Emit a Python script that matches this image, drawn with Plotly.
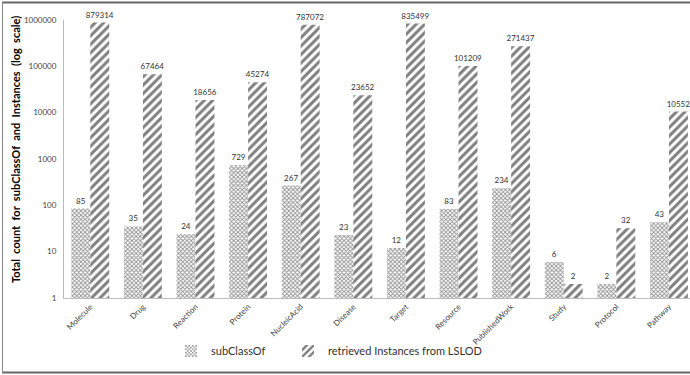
import plotly.graph_objects as go

categories = ["Molecule", "Drug", "Reaction", "Protein", "NucleicAcid", "Disease",
              "Target", "Resource", "PublishedWork", "Study", "Protocol", "Pathway"]
subclass_vals = [85, 35, 24, 729, 267, 23, 12, 83, 234, 6, 2, 43]
instance_vals = [879314, 67464, 18656, 45274, 787072, 23652, 835499, 101209, 271437, 2, 32, 10552]
y_ticks = [1, 10, 100, 1000, 10000, 100000, 1000000]

W, H = 690, 375
ML, MR, MT, MB = 64, 0, 20, 77
pw = W - ML - MR
ph = H - MT - MB

def px_x(p):
    return (p - ML) / pw

def px_y(p):
    return (H - MB - p) / ph

font_fam = "Lato, 'Open Sans', sans-serif"

fig = go.Figure()
fig.add_trace(go.Bar(
    name="subClassOf", x=categories, y=subclass_vals,
    text=[str(v) for v in subclass_vals], textposition="outside",
    textfont=dict(size=8, color="#333", family=font_fam),
    cliponaxis=False, constraintext="none", legend="legend",
    marker=dict(color="white", line=dict(width=0),
                pattern=dict(shape="x", size=3, solidity=0.5, fgcolor="#222", bgcolor="white")),
))
fig.add_trace(go.Bar(
    name="retrieved Instances from LSLOD", x=categories, y=instance_vals,
    text=[str(v) for v in instance_vals], textposition="outside",
    textfont=dict(size=8, color="#333", family=font_fam),
    cliponaxis=False, constraintext="none", legend="legend2",
    marker=dict(color="white", line=dict(width=0),
                pattern=dict(shape="/", size=6, solidity=0.5, fgcolor="black", bgcolor="white")),
))

leg_common = dict(orientation="h", yanchor="middle", y=px_y(351), xanchor="left",
                  font=dict(size=11, color="#333"), itemwidth=30, bgcolor="rgba(0,0,0,0)")

fig.update_layout(
    width=W, height=H,
    margin=dict(l=ML, r=MR, t=MT, b=MB, autoexpand=False),
    paper_bgcolor="white", plot_bgcolor="white",
    barmode="group", bargap=0.28, bargroupgap=0,
    font=dict(family=font_fam, color="#333"),
    showlegend=True,
    legend=dict(x=px_x(213 - 42), **leg_common),
    legend2=dict(x=px_x(330 - 42), **leg_common),
    xaxis=dict(range=[-0.5, 11.4], tickangle=-45, tickfont=dict(size=8, color="#444"),
               showline=True, linecolor="#bbb", linewidth=1, showgrid=False, ticks="",
               fixedrange=True),
    yaxis=dict(type="log", range=[0, 6], tickvals=y_ticks, ticktext=[str(v) for v in y_ticks],
               tickfont=dict(size=8, color="#444"), showline=True, linecolor="#bbb", linewidth=1,
               showgrid=False, ticks="", ticklabelstandoff=5, zeroline=False),
    annotations=[dict(
        text="<b>Total  count  for  subClassOf  and  Instances  (log  scale)</b>",
        xref="paper", yref="paper", x=px_x(15), y=px_y(150), textangle=-90,
        showarrow=False, font=dict(size=11, color="black", family=font_fam),
        xanchor="center", yanchor="middle")],
    shapes=[
        dict(type="line", xref="paper", yref="paper", x0=px_x(2), x1=px_x(700), y0=px_y(2.5), y1=px_y(2.5),
             line=dict(color="#666", width=2)),
        dict(type="line", xref="paper", yref="paper", x0=px_x(2), x1=px_x(700), y0=px_y(372.5), y1=px_y(372.5),
             line=dict(color="#666", width=2)),
        dict(type="line", xref="paper", yref="paper", x0=px_x(2.5), x1=px_x(2.5), y0=px_y(2), y1=px_y(373),
             line=dict(color="#888", width=1)),
    ],
)

fig.write_html("out.html")
